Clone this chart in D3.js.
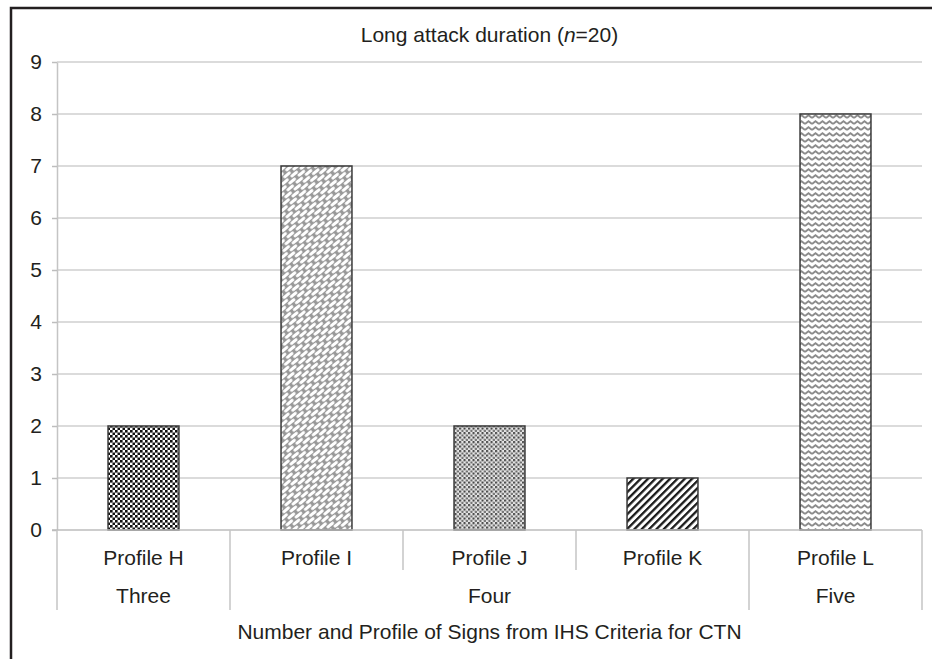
<!DOCTYPE html>
<html>
<head>
<meta charset="utf-8">
<script src="https://cdn.jsdelivr.net/npm/d3@7"></script>
<style>
  body { margin: 0; background: #fff; }
  text { font-family: "Liberation Sans", Arial, sans-serif; fill: #231f20; }
</style>
</head>
<body>
<div id="chart"></div>
<script>
// chart data
const categories = ['Profile H', 'Profile I', 'Profile J', 'Profile K', 'Profile L'];
const values = [2, 7, 2, 1, 8];
const groupNames = ['Three', 'Four', 'Five'];
const groupSpans = [1, 3, 1];
const yTicks = [0, 1, 2, 3, 4, 5, 6, 7, 8, 9];
const patternIds = ['pCheck', 'pWeave', 'pDots', 'pDiag', 'pZig'];

const width = 932, height = 659;
const margin = { top: 62, right: 10, bottom: 129, left: 57 };
const fontSize = 21;

const svg = d3.select('#chart').append('svg')
  .attr('width', width)
  .attr('height', height);

// patterns
const defs = svg.append('defs');

const check = defs.append('pattern').attr('id', 'pCheck')
  .attr('patternUnits', 'userSpaceOnUse').attr('width', 5).attr('height', 5);
check.append('rect').attr('width', 5).attr('height', 5).attr('fill', '#fff');
check.append('rect').attr('x', 0).attr('y', 0).attr('width', 2.6).attr('height', 2.6).attr('fill', '#111');
check.append('rect').attr('x', 2.5).attr('y', 2.5).attr('width', 2.6).attr('height', 2.6).attr('fill', '#111');

const weave = defs.append('pattern').attr('id', 'pWeave')
  .attr('patternUnits', 'userSpaceOnUse').attr('width', 12).attr('height', 8)
  .attr('patternTransform', 'rotate(-40)');
weave.append('rect').attr('width', 12).attr('height', 8).attr('fill', '#999');
weave.append('rect').attr('x', 1).attr('y', 1).attr('width', 9).attr('height', 3).attr('rx', 1.4).attr('fill', '#fff');
weave.append('rect').attr('x', 7).attr('y', 5).attr('width', 9).attr('height', 3).attr('rx', 1.4).attr('fill', '#fff');
weave.append('rect').attr('x', -5).attr('y', 5).attr('width', 9).attr('height', 3).attr('rx', 1.4).attr('fill', '#fff');

const dots = defs.append('pattern').attr('id', 'pDots')
  .attr('patternUnits', 'userSpaceOnUse').attr('width', 4.5).attr('height', 4.5);
dots.append('rect').attr('width', 4.5).attr('height', 4.5).attr('fill', '#e8e8e8');
dots.append('circle').attr('cx', 1.1).attr('cy', 1.1).attr('r', 1.2).attr('fill', '#444');
dots.append('circle').attr('cx', 3.35).attr('cy', 3.35).attr('r', 1.2).attr('fill', '#666');

const diag = defs.append('pattern').attr('id', 'pDiag')
  .attr('patternUnits', 'userSpaceOnUse').attr('width', 5.2).attr('height', 5.2)
  .attr('patternTransform', 'rotate(45)');
diag.append('rect').attr('width', 5.2).attr('height', 5.2).attr('fill', '#fff');
diag.append('rect').attr('x', 0).attr('y', 0).attr('width', 2.3).attr('height', 5.2).attr('fill', '#1a1a1a');

const zig = defs.append('pattern').attr('id', 'pZig')
  .attr('patternUnits', 'userSpaceOnUse').attr('width', 7).attr('height', 6);
zig.append('rect').attr('width', 7).attr('height', 6).attr('fill', '#fff');
zig.append('path').attr('d', 'M0,4 L3.5,1.2 L7,4')
  .attr('fill', 'none').attr('stroke', '#8c8c8c').attr('stroke-width', 1.8);

// frame (top and left edges visible in reference)
svg.append('rect')
  .attr('x', 11).attr('y', 8)
  .attr('width', 940).attr('height', 700)
  .attr('fill', 'none').attr('stroke', '#231f20').attr('stroke-width', 2.5);

// scales
const x = d3.scaleBand()
  .domain(categories)
  .range([margin.left, width - margin.right])
  .padding(0);

const y = d3.scaleLinear()
  .domain([0, 9])
  .range([height - margin.bottom, margin.top]);

const barW = x.bandwidth() * 0.41;
const x0 = margin.left, x1 = width - margin.right;

// gridlines
svg.append('g').selectAll('line')
  .data(yTicks.filter(d => d > 0))
  .join('line')
    .attr('x1', x0).attr('x2', x1)
    .attr('y1', d => y(d)).attr('y2', d => y(d))
    .attr('stroke', '#cfcfcf').attr('stroke-width', 1.5);

// y axis
const yAxis = d3.axisLeft(y).tickValues(yTicks).tickSize(5).tickPadding(10).tickSizeOuter(0);
const yg = svg.append('g')
  .attr('transform', `translate(${x0},0)`)
  .call(yAxis);
yg.select('.domain').attr('stroke', '#c4c4c4').attr('stroke-width', 1.5);
yg.selectAll('.tick line').attr('stroke', '#bdbdbd').attr('stroke-width', 1.5);
yg.selectAll('.tick text')
  .attr('font-size', fontSize)
  .attr('font-family', '"Liberation Sans", Arial, sans-serif')
  .attr('fill', '#231f20');

// bars
svg.append('g').selectAll('rect')
  .data(categories)
  .join('rect')
    .attr('x', d => x(d) + (x.bandwidth() - barW) / 2)
    .attr('y', (d, i) => y(values[i]))
    .attr('width', barW)
    .attr('height', (d, i) => y(0) - y(values[i]))
    .attr('fill', (d, i) => `url(#${patternIds[i]})`)
    .attr('stroke', '#3a3a3a')
    .attr('stroke-width', 1.5);

// baseline
svg.append('line')
  .attr('x1', x0 - 5).attr('x2', x1)
  .attr('y1', y(0)).attr('y2', y(0))
  .attr('stroke', '#bdbdbd').attr('stroke-width', 1.5);

// category dividers
const groupEnds = [];
let acc = 0;
groupSpans.forEach(s => { acc += s; groupEnds.push(acc); });
const dividers = d3.range(0, categories.length + 1);
svg.append('g').selectAll('line')
  .data(dividers)
  .join('line')
    .attr('x1', i => i < categories.length ? x(categories[i]) : x1)
    .attr('x2', i => i < categories.length ? x(categories[i]) : x1)
    .attr('y1', y(0))
    .attr('y2', i => (i === 0 || groupEnds.includes(i)) ? y(0) + 80 : y(0) + 40)
    .attr('stroke', '#c4c4c4').attr('stroke-width', 1.5);

// category labels
svg.append('g').selectAll('text')
  .data(categories)
  .join('text')
    .attr('x', d => x(d) + x.bandwidth() / 2)
    .attr('y', y(0) + 35)
    .attr('text-anchor', 'middle')
    .attr('font-size', fontSize)
    .text(d => d);

// group labels
let start = 0;
const groupPos = groupSpans.map(s => {
  const a = x(categories[start]);
  const b = x(categories[start + s - 1]) + x.bandwidth();
  start += s;
  return (a + b) / 2;
});
svg.append('g').selectAll('text')
  .data(groupNames)
  .join('text')
    .attr('x', (d, i) => groupPos[i])
    .attr('y', y(0) + 73)
    .attr('text-anchor', 'middle')
    .attr('font-size', fontSize)
    .text(d => d);

// axis title
svg.append('text')
  .attr('x', (x0 + x1) / 2)
  .attr('y', y(0) + 109)
  .attr('text-anchor', 'middle')
  .attr('font-size', fontSize)
  .text('Number and Profile of Signs from IHS Criteria for CTN');

// chart title
const title = svg.append('text')
  .attr('x', (x0 + x1) / 2)
  .attr('y', 42)
  .attr('text-anchor', 'middle')
  .attr('font-size', fontSize);
title.append('tspan').text('Long attack duration (');
title.append('tspan').attr('font-style', 'italic').text('n');
title.append('tspan').text('=20)');
</script>
</body>
</html>
